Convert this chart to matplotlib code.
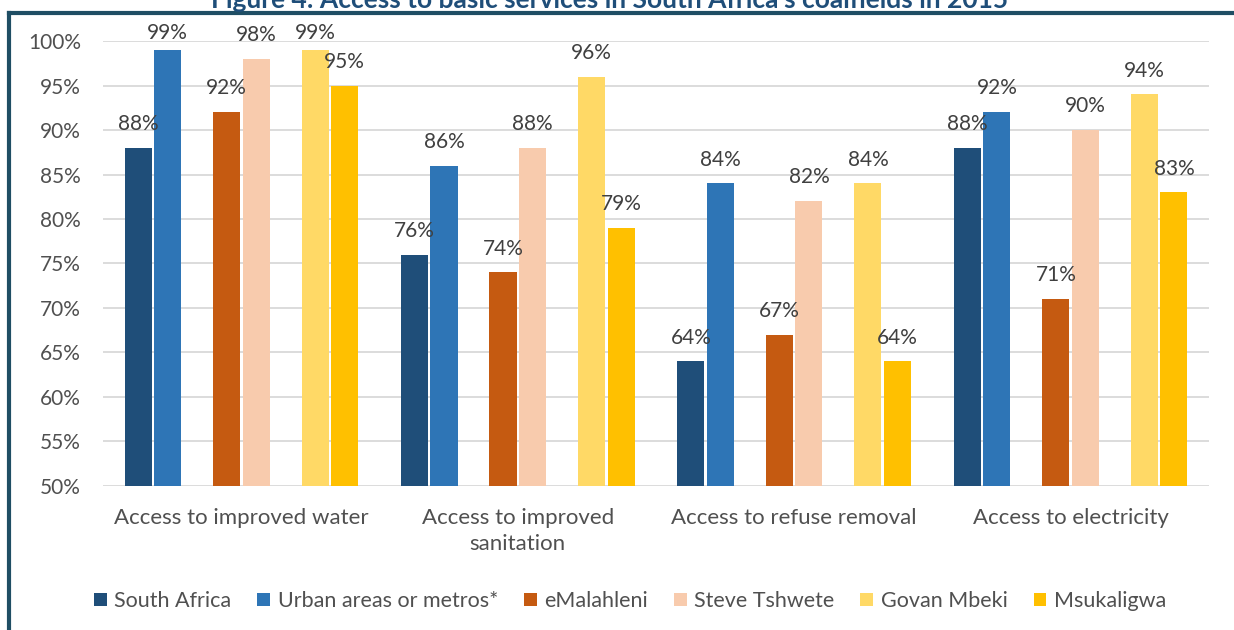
import matplotlib
matplotlib.use("Agg")
import matplotlib.pyplot as plt
import numpy as np
from matplotlib.lines import Line2D

plt.rcParams['font.family'] = ['Lato', 'DejaVu Sans']

categories = ["Access to improved water", "Access to improved\nsanitation",
              "Access to refuse removal", "Access to electricity"]
series_names = ["South Africa", "Urban areas or metros*", "eMalahleni",
                "Steve Tshwete", "Govan Mbeki", "Msukaligwa"]
south_africa = [88, 76, 64, 88]
urban_metros = [99, 86, 84, 92]
emalahleni = [92, 74, 67, 71]
steve_tshwete = [98, 88, 82, 90]
govan_mbeki = [99, 96, 84, 94]
msukaligwa = [95, 79, 64, 83]
y_ticks = [50, 55, 60, 65, 70, 75, 80, 85, 90, 95, 100]

series = [south_africa, urban_metros, emalahleni, steve_tshwete, govan_mbeki, msukaligwa]
colors = ["#1F4E79", "#2E75B6", "#C55A11", "#F8CBAD", "#FFD966", "#FFC000"]
# bars sit in pairs: slots 2 and 5 of the 8 are left empty
slots = [0, 1, 3, 4, 6, 7]

fig = plt.figure(figsize=(12.34, 6.3), dpi=100)
ax = fig.add_axes([0.0835, 0.2286, 0.8962, 0.7063])

x = np.arange(len(categories))
slot_w = 0.1067
bar_w = 0.0977
for vals, name, col, s in zip(series, series_names, colors, slots):
    pos = x + (s - 3.5) * slot_w
    ax.bar(pos, vals, width=bar_w, color=col, label=name, zorder=3)
    for px, v in zip(pos, vals):
        ax.text(px, min(v + 2.0, 100.2), f"{v}%", ha="center", va="baseline",
                fontsize=15, color="#404040", clip_on=False, zorder=4)

ax.set_ylim(50, 100)
ax.set_xlim(-0.5, len(categories) - 0.5)
ax.set_yticks(y_ticks)
ax.set_yticklabels([f"{t}%" for t in y_ticks])
ax.set_xticks(x)
ax.set_xticklabels(categories, linespacing=1.35)
ax.yaxis.grid(True, color="#D9D9D9", lw=1.3, zorder=0)
ax.set_axisbelow(True)
for sp in ax.spines.values():
    sp.set_visible(False)
ax.tick_params(axis="y", length=0, pad=16, labelsize=15, labelcolor="#505050")
ax.tick_params(axis="x", length=0, pad=16, labelsize=16, labelcolor="#505050")

handles, labels = ax.get_legend_handles_labels()
leg = fig.legend(handles, labels, loc="center", bbox_to_anchor=(630 / 1234, 1 - 601 / 630),
                 ncol=6, frameon=False, fontsize=15.5, handlelength=0.6, handleheight=0.6,
                 handletextpad=0.35, columnspacing=1.2)
for t in leg.get_texts():
    t.set_color("#505050")

# frame border around the chart
frame_col = "#1F4E64"
fig.add_artist(Line2D([9 / 1234, 9 / 1234], [0, 1 - 13 / 630], transform=fig.transFigure,
                      color=frame_col, lw=3))
fig.add_artist(Line2D([9 / 1234, 1], [1 - 13 / 630, 1 - 13 / 630], transform=fig.transFigure,
                      color=frame_col, lw=3))

fig.text(610 / 1234, 1 - 8 / 630,
         "Figure 4: Access to basic services in South Africa's coalfields in 2015",
         ha="center", va="baseline", fontsize=19, fontweight="bold", color="#1F4E79")

fig.savefig("out.png", dpi=100)
